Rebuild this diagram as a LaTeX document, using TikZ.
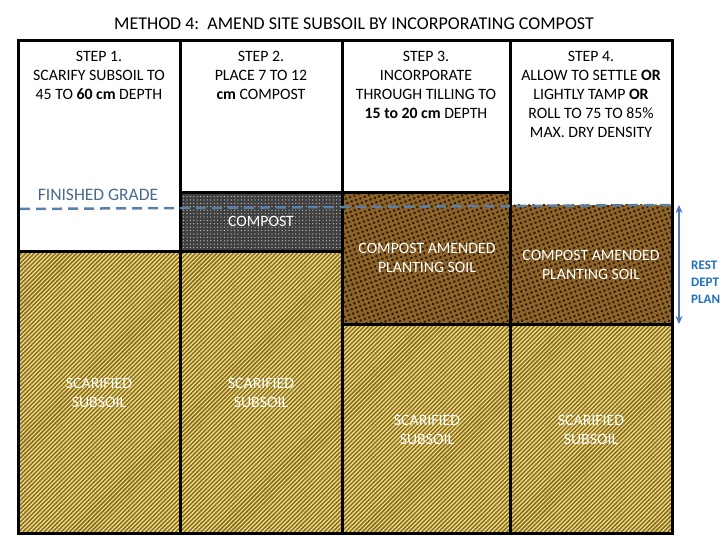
\documentclass[tikz,border=0pt]{standalone}
\usepackage{fontspec}
\setmainfont{Carlito}
\usetikzlibrary{patterns.meta,arrows.meta}
\definecolor{soilbase}{HTML}{8A6D1E}
\definecolor{soilline}{HTML}{F2E28C}
\definecolor{compbase}{HTML}{404040}
\definecolor{compdot}{HTML}{D0D0D0}
\definecolor{amdbase}{HTML}{8C6628}
\definecolor{amddot}{HTML}{3A1A08}
\definecolor{gradeblue}{HTML}{5B80A8}
\definecolor{gradetext}{HTML}{4A6A8C}
\definecolor{restblue}{HTML}{1F6FBF}
\tikzset{
  subsoil/.style={fill=soilbase, postaction={pattern={Lines[angle=45,distance=3pt,line width=1.2pt]}, pattern color=soilline}},
  compost/.style={fill=compbase, postaction={pattern={Dots[radius=0.6pt,distance=3.4pt]}, pattern color=compdot}},
  amended/.style={fill=amdbase, postaction={pattern={Dots[radius=1.5pt,distance=4.6pt,angle=20]}, pattern color=amddot}},
  frame/.style={line width=3pt, draw=black},
  steptext/.style={align=center, font=\fontsize{15.8}{19}\selectfont, anchor=north, inner sep=0pt},
  whitetext/.style={align=center, text=white, font=\fontsize{15.8}{19}\selectfont, inner sep=0pt},
}
\begin{document}
\begin{tikzpicture}[x=1pt,y=-1pt]
\useasboundingbox (0,0) rectangle (720,540);
\clip (0,0) rectangle (720,540);
% fills
\path[subsoil] (18,251) rectangle (180,533);
\path[subsoil] (180,251) rectangle (342,533);
\path[subsoil] (342,324) rectangle (510,533);
\path[subsoil] (510,324) rectangle (672,533);
\path[compost] (180,193) rectangle (342,251);
\path[amended] (342,193) rectangle (510,324);
\path[amended] (510,205) rectangle (672,324);
% lines
\draw[frame] (18,251) -- (180,251);
\draw[frame] (180,193) -- (342,193);
\draw[frame] (180,251) -- (342,251);
\draw[frame] (342,193) -- (510,193);
\draw[frame] (342,324) -- (672,324);
\draw[frame] (180,41) -- (180,533);
\draw[frame] (342,41) -- (342,533);
\draw[frame] (510,41) -- (510,533);
\draw[frame] (18,41) rectangle (672,533);
% finished grade
\coordinate (g1) at (20,209);
\coordinate (g2) at (672,205);
\draw[gradeblue, line width=2.5pt, dash pattern=on 10pt off 6pt] (g1) -- (g2);
\node[text=gradetext, font=\fontsize{17.5}{20}\selectfont, inner sep=0pt] (fg) at (98,195) {FINISHED GRADE};
% title
\node[font=\fontsize{18}{20}\selectfont, inner sep=0pt] (title) at (354,24) {METHOD 4:\ \ AMEND SITE SUBSOIL BY INCORPORATING COMPOST};
% steps
\node[steptext] (s1) at (99,51) {STEP 1.\\SCARIFY SUBSOIL TO\\45 TO \textbf{60 cm} DEPTH};
\node[steptext] (s2) at (261,51) {STEP 2.\\PLACE 7 TO 12\\\textbf{cm} COMPOST};
\node[steptext] (s3) at (426,51) {STEP 3.\\INCORPORATE\\THROUGH TILLING TO\\\textbf{15 to 20 cm} DEPTH};
\node[steptext] (s4) at (591,51) {STEP 4.\\ALLOW TO SETTLE \textbf{OR}\\LIGHTLY TAMP \textbf{OR}\\ROLL TO 75 TO 85\%\\MAX. DRY DENSITY};
% layer labels
\node[whitetext] (c2) at (261,221) {COMPOST};
\node[whitetext] (a3) at (427,258) {COMPOST AMENDED\\PLANTING SOIL};
\node[whitetext] (a4) at (591,265) {COMPOST AMENDED\\PLANTING SOIL};
\node[whitetext] (ss1) at (99,393) {SCARIFIED\\SUBSOIL};
\node[whitetext] (ss2) at (261,393) {SCARIFIED\\SUBSOIL};
\node[whitetext] (ss3) at (427,430) {SCARIFIED\\SUBSOIL};
\node[whitetext] (ss4) at (591,430) {SCARIFIED\\SUBSOIL};
% depth arrow
\coordinate (at) at (679,205);
\coordinate (ab) at (679,324);
\draw[gradeblue!90!blue, line width=1.6pt, {Stealth[length=8pt,width=7pt]}-{Stealth[length=8pt,width=7pt]}] (at) -- (ab);
\node[text=restblue, font=\bfseries\fontsize{13}{17}\selectfont, align=left, anchor=north west, inner sep=0pt] (rest) at (691,261) {REST\\DEPT\\PLAN};
\end{tikzpicture}
\end{document}
